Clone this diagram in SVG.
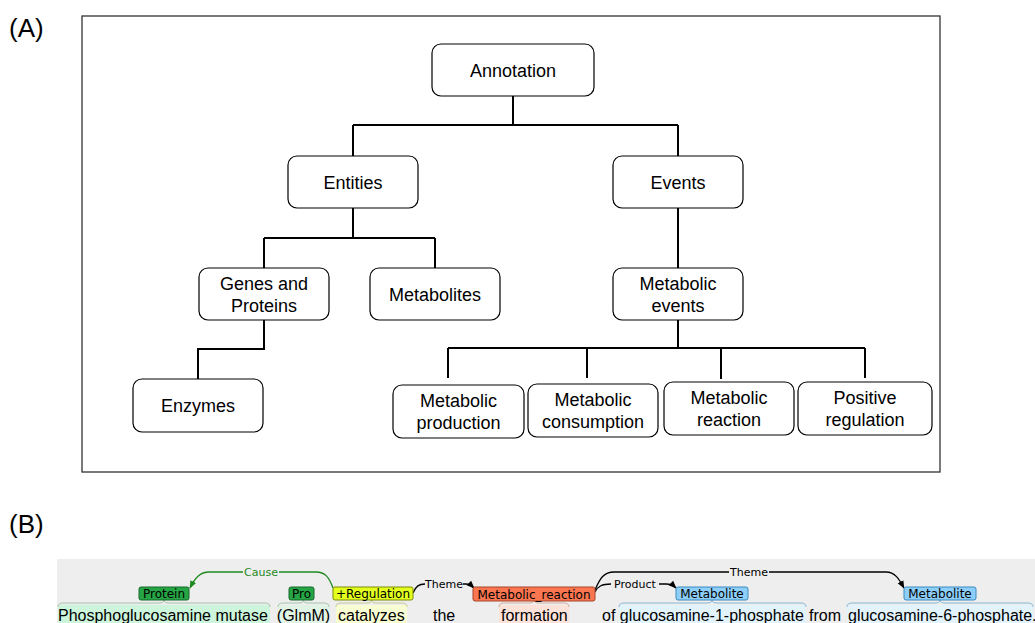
<svg xmlns="http://www.w3.org/2000/svg" width="1035" height="623" viewBox="0 0 1035 623">
<defs>
<style>
.node rect{fill:#fff;stroke:#000;stroke-width:1.2}
.node text,.tl{font-family:"Liberation Sans",Arial,sans-serif;font-size:18px;fill:#000;text-anchor:middle}
.conn path{fill:none;stroke:#000;stroke-width:2}
.word{font-family:"Liberation Sans",Arial,sans-serif;font-size:16px;fill:#000}
.lab rect{stroke-width:1}
.lab text{font-family:"DejaVu Sans",Verdana,sans-serif;font-size:12px;fill:#000;text-anchor:middle}
.arc{fill:none;stroke:#000;stroke-width:1.3}
.arclab{font-family:"DejaVu Sans",Verdana,sans-serif;font-size:11px;fill:#000;text-anchor:middle}
.brace{fill:none;stroke-width:0.8}
</style>
<marker id="ab" viewBox="0 0 10 10" refX="9" refY="5" markerWidth="8" markerHeight="8" orient="auto" markerUnits="userSpaceOnUse"><path d="M0,1 L10,5 L0,9 Z" fill="#000"/></marker>
<marker id="ag" viewBox="0 0 10 10" refX="9" refY="5" markerWidth="8" markerHeight="8" orient="auto" markerUnits="userSpaceOnUse"><path d="M0,1 L10,5 L0,9 Z" fill="#1f8a1f"/></marker>
</defs>
<rect width="1035" height="623" fill="#fff"/>
<text class="tl" x="9" y="37" style="font-size:26px;text-anchor:start">(A)</text>
<rect x="82" y="16" width="858" height="456" fill="none" stroke="#333" stroke-width="1.3"/>
<g class="conn">
<path d="M513,96 V125 M353,125 H678 M353,125 V156 M678,125 V156"/>
<path d="M353,208 V238 M264,238 H435 M264,238 V268 M435,238 V268"/>
<path d="M678,208 V268"/>
<path d="M264,320 V349 H198 V379"/>
<path d="M678,320 V348 M448,348 H865 M448,348 V378 M587,348 V378 M721,348 V379 M865,348 V378"/>
</g>
<g id="n-annotation" class="node"><rect x="432" y="44" width="162" height="52" rx="9"/><text x="513" y="77">Annotation</text></g>
<g id="n-entities" class="node"><rect x="288" y="156" width="130" height="52" rx="9"/><text x="353" y="189">Entities</text></g>
<g id="n-events" class="node"><rect x="613" y="156" width="130" height="52" rx="9"/><text x="678" y="189">Events</text></g>
<g id="n-genes" class="node"><rect x="199" y="268" width="130" height="52" rx="9"/><text x="264" y="289.5">Genes and</text><text x="264" y="311.5">Proteins</text></g>
<g id="n-metabolites" class="node"><rect x="370" y="268" width="130" height="52" rx="9"/><text x="435" y="300.5">Metabolites</text></g>
<g id="n-metevents" class="node"><rect x="613" y="268" width="130" height="52" rx="9"/><text x="678" y="289.5">Metabolic</text><text x="678" y="311.5">events</text></g>
<g id="n-enzymes" class="node"><rect x="133" y="379" width="130" height="53" rx="9"/><text x="198" y="412">Enzymes</text></g>
<g id="n-production" class="node"><rect x="393" y="385" width="131" height="53" rx="9"/><text x="458.5" y="407">Metabolic</text><text x="458.5" y="429">production</text></g>
<g id="n-consumption" class="node"><rect x="528" y="384" width="130" height="53" rx="9"/><text x="593" y="406">Metabolic</text><text x="593" y="428">consumption</text></g>
<g id="n-reaction" class="node"><rect x="664" y="382" width="130" height="53" rx="9"/><text x="729" y="404">Metabolic</text><text x="729" y="426">reaction</text></g>
<g id="n-posreg" class="node"><rect x="798" y="382" width="134" height="53" rx="9"/><text x="865" y="404">Positive</text><text x="865" y="426">regulation</text></g>

<text class="tl" x="9" y="533" style="font-size:26px;text-anchor:start">(B)</text>
<rect x="57" y="559" width="978" height="64" fill="#eeeeee"/>
<g id="spans">
<rect x="58" y="605" width="212" height="18" fill="#cdf5db"/>
<rect x="278" y="605" width="51" height="18" fill="#e0f3e5"/>
<rect x="336" y="605" width="71" height="18" fill="#f8fdd2"/>
<rect x="499" y="605" width="70" height="18" fill="#fde2da"/>
<rect x="619" y="605" width="187" height="18" fill="#e2f3fc"/>
<rect x="847" y="605" width="186" height="18" fill="#e2f3fc"/>
<path class="brace" stroke="#8fb89a" d="M58,607 Q58,603 63,603 H159 Q164,603 164,600 Q164,603 169,603 H265 Q270,603 270,607"/>
<path class="brace" stroke="#8fb89a" d="M278,607 Q278,603 283,603 H299 Q303.5,603 303.5,600 Q303.5,603 308,603 H324 Q329,603 329,607"/>
<path class="brace" stroke="#b8bf7a" d="M336,607 Q336,603 341,603 H367 Q371.5,603 371.5,600 Q371.5,603 376,603 H402 Q407,603 407,607"/>
<path class="brace" stroke="#c99a8a" d="M499,607 Q499,603 504,603 H529 Q534,603 534,600 Q534,603 539,603 H564 Q569,603 569,607"/>
<path class="brace" stroke="#6aa8cf" d="M619,607 Q619,603 624,603 H707 Q712,603 712,600 Q712,603 717,603 H801 Q806,603 806,607"/>
<path class="brace" stroke="#6aa8cf" d="M847,607 Q847,603 852,603 H935 Q940,603 940,600 Q940,603 945,603 H1028 Q1033,603 1033,607"/>
</g>
<g id="words">
<text class="word" x="58" y="621">Phosphoglucosamine mutase</text>
<text class="word" x="303.5" y="621" text-anchor="middle">(GlmM)</text>
<text class="word" x="338" y="621">catalyzes</text>
<text class="word" x="433" y="621">the</text>
<text class="word" x="501" y="621">formation</text>
<text class="word" x="602" y="621">of glucosamine-1-phosphate</text>
<text class="word" x="809" y="621">from</text>
<text class="word" x="848" y="621">glucosamine-6-phosphate.</text>
</g>
<g id="arcs">
<path class="arc" stroke="#1f8a1f" style="stroke:#1f8a1f" d="M333,588 C329,577 325,572 316,572 H279"/>
<path class="arc" style="stroke:#1f8a1f" marker-end="url(#ag)" d="M243,572 H209 C200,572 195,578 190,588"/>
<text class="arclab" x="261" y="576" style="fill:#1f8a1f">Cause</text>
<path class="arc" d="M413,593 C416,586 419,584 425,584"/>
<path class="arc" marker-end="url(#ab)" d="M463,584 H466 C469,584 471,585 474,588"/>
<text class="arclab" x="444" y="588">Theme</text>
<path class="arc" d="M595,592 C598,586 602,584 611,584"/>
<path class="arc" marker-end="url(#ab)" d="M659,584 H666 C670,584 673,585 676,588"/>
<text class="arclab" x="635" y="588">Product</text>
<path class="arc" d="M595,590 C600,578 604,572 614,572 H729"/>
<path class="arc" marker-end="url(#ab)" d="M769,572 H886 C895,572 899,579 904,588"/>
<text class="arclab" x="749" y="576">Theme</text>
</g>
<g id="l-protein" class="lab"><rect x="139" y="587" width="50" height="13" rx="2" fill="#26a544" stroke="#16692b"/><text x="164" y="598">Protein</text></g>
<g id="l-pro" class="lab"><rect x="289" y="587" width="25" height="13" rx="2" fill="#26a544" stroke="#16692b"/><text x="301.5" y="598">Pro</text></g>
<g id="l-reg" class="lab"><rect x="333" y="587" width="80" height="13" rx="2" fill="#e2ff1e" stroke="#7d8a00"/><text x="373" y="598">+Regulation</text></g>
<g id="l-metreac" class="lab"><rect x="473" y="587" width="122" height="14" rx="2" fill="#fa7650" stroke="#a8452a"/><text x="534" y="598.5">Metabolic_reaction</text></g>
<g id="l-met1" class="lab"><rect x="676" y="587" width="72" height="13" rx="2" fill="#8dcff8" stroke="#3a8ac0"/><text x="712" y="598">Metabolite</text></g>
<g id="l-met2" class="lab"><rect x="904" y="587" width="72" height="13" rx="2" fill="#8dcff8" stroke="#3a8ac0"/><text x="940" y="598">Metabolite</text></g>
</svg>
